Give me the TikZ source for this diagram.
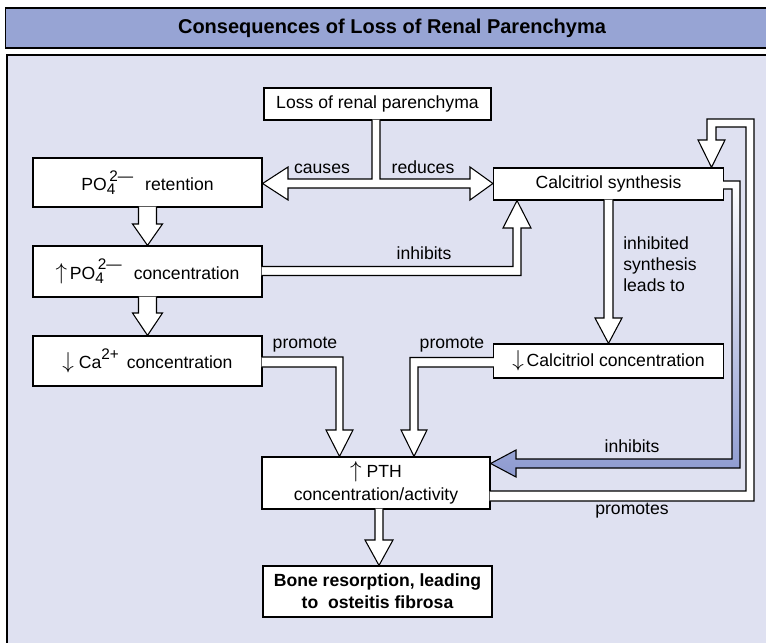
\documentclass[tikz,border=0pt]{standalone}
\usepackage{fontspec}
\setmainfont{Liberation Sans}
\usetikzlibrary{calc}
\definecolor{titleblue}{RGB}{151,164,212}
\definecolor{panelbg}{RGB}{223,225,241}
\definecolor{arrowblue}{RGB}{141,154,208}
\newcommand{\supsub}[2]{\rlap{\raisebox{-0.45ex}{\fontsize{11.5}{12}\selectfont #1}}\raisebox{1.0ex}{\fontsize{11.5}{12}\selectfont\,#2}}
\newcommand{\uparr}{{\fontsize{17}{17}\selectfont$\uparrow$}}
\newcommand{\downarr}{{\fontsize{17}{17}\selectfont$\downarrow$}}
\begin{document}
\begin{tikzpicture}[x=0.75pt,y=-0.75pt,
  box/.style={draw=black, fill=white, line width=0.9pt, inner sep=0pt, align=center,
    font=\fontsize{13.2}{17}\selectfont},
  blk/.style={draw=black, fill=white, line width=0.8pt, line join=miter},
  bblk/.style={draw=black, line width=0.8pt, line join=miter, shading=axis, top color=white, bottom color=arrowblue},
  lbl/.style={font=\fontsize{13.2}{15.75}\selectfont, inner sep=0pt, text height=9.5pt, text depth=2.8pt},
  mlbl/.style={font=\fontsize{13.2}{15.75}\selectfont, inner sep=0pt}]
\useasboundingbox (0,0) rectangle (766,642);
\fill[white] (0,0) rectangle (766,642);
% title bar and panel
\node[draw=black, fill=titleblue, line width=0.8pt, minimum width=579.75pt, minimum height=30pt,
  anchor=west, inner sep=0pt, font=\fontsize{15}{18}\selectfont\bfseries] (title) at (5,28)
  {Consequences of Loss of Renal Parenchyma};
\draw[fill=panelbg, line width=1.2pt] (7,55) rectangle (790,660);
% boxes
\node[box, minimum width=170.25pt, minimum height=24pt] (loss) at (377.5,104) {Loss of renal parenchyma};
\node[box, minimum width=171.75pt, minimum height=36.75pt] (ret) at (147.5,182.5)
  {PO\supsub{4}{2—}\hspace{9pt}retention};
\node[box, minimum width=171.75pt, minimum height=38.25pt] (pconc) at (147.5,271.5)
  {\uparr\,PO\supsub{4}{2—}\hspace{9pt}concentration};
\node[box, minimum width=171.75pt, minimum height=37.5pt] (ca) at (147.5,361)
  {\downarr\ Ca\raisebox{1.0ex}{\fontsize{11.5}{12}\selectfont 2+}\hspace{6pt}concentration};
\node[box, minimum width=172.5pt, minimum height=24pt] (syn) at (608.5,184) {Calcitriol synthesis};
\node[box, minimum width=172.5pt, minimum height=25.5pt] (cconc) at (608.5,361) {\downarr\,Calcitriol concentration};
\node[box, minimum width=171pt, minimum height=39pt] (pth) at (376,483) {\uparr\ PTH\\concentration/activity};
\node[box, minimum width=171.75pt, minimum height=38.25pt, font=\fontsize{13.2}{16.5}\selectfont\bfseries] (bone) at (377.5,591.5)
  {Bone resorption, leading\\to\ \ osteitis fibrosa};
% block arrows
\draw[blk] ($(ret.south)+(-9,-1)$) -- (138.5,224) -- (132.5,224) -- (pconc.north) -- (162.5,224) -- (156.5,224) -- ($(ret.south)+(9,-1)$);
\draw[blk] ($(pconc.south)+(-9,-1)$) -- (138.5,313) -- (132.5,313) -- (ca.north) -- (162.5,313) -- (156.5,313) -- ($(pconc.south)+(9,-1)$);
\draw[blk] ($(pconc.east)+(-1,-5)$) -- (513,266.5) -- (513,228) -- (503,228) -- (517,0 |- syn.south) -- (531,228) -- (521,228) -- (521,275.5) -- ($(pconc.east)+(-1,4)$);
\draw[blk] ($(syn.south)+(-4.5,-1)$) -- (604,318) -- (595,318) -- (cconc.north) -- (622,318) -- (613,318) -- ($(syn.south)+(4.5,-1)$);
\draw[blk] ($(loss.south)+(-5.5,-1)$) -- (372,179) -- (288,179) -- (288,167) -- (ret.east |- 0,183.5) -- (288,200) -- (288,188)
  -- (470,188) -- (470,200) -- (syn.west |- 0,183.5) -- (470,167) -- (470,179) -- (380,179) -- ($(loss.south)+(2.5,-1)$);
\draw[blk] ($(ca.east)+(-1,-4)$) -- (343,357) -- (343,430) -- (353,430) -- (339.5,0 |- pth.north) -- (326,430) -- (336,430) -- (336,367) -- ($(ca.east)+(-1,6)$);
\draw[blk] ($(cconc.west)+(1,-3.5)$) -- (410,357.5) -- (410,430) -- (401,430) -- (414,0 |- pth.north) -- (427,430) -- (418,430) -- (418,367) -- ($(cconc.west)+(1,6)$);
\draw[blk] ($(pth.south)+(-1,-1)$) -- (375,540) -- (365,540) -- (379,0 |- bone.north) -- (393,540) -- (383,540) -- ($(pth.south)+(7,-1)$);
\draw[blk] ($(pth.east)+(-1,18)$) -- (754,501) -- (754,119) -- (707,119) -- (707,140) -- (698,140) -- (711.5,0 |- syn.north)
  -- (725,140) -- (716,140) -- (716,127) -- (746,127) -- (746,491) -- ($(pth.east)+(-1,8)$);
\draw[bblk] ($(syn.east)+(-1,-3)$) -- (740,181) -- (740,468) -- (516,468) -- (516,477) -- (pth.east |- 0,463.5) -- (516,450)
  -- (516,459) -- (732,459) -- (732,189) -- ($(syn.east)+(-1,5)$);
% labels
\node[lbl] (lcauses) at (322,169) {causes};
\node[lbl] (lreduces) at (423,169) {reduces};
\node[lbl] (linh1) at (424,255) {inhibits};
\node[mlbl, align=left, anchor=west] (lsyn) at (623,264) {inhibited\\synthesis\\leads to};
\node[lbl] (lpro1) at (305,344) {promote};
\node[lbl] (lpro2) at (452,344) {promote};
\node[lbl] (linh2) at (632,448) {inhibits};
\node[lbl] (lpros) at (632,510) {promotes};
\end{tikzpicture}
\end{document}
